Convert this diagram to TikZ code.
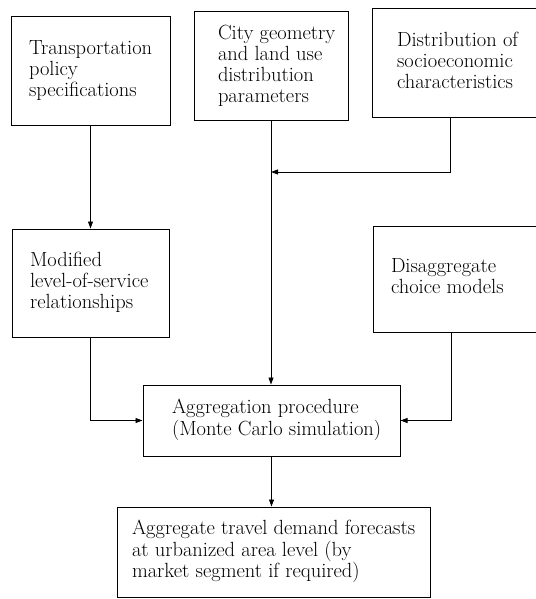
\documentclass[tikz,border=0pt]{standalone}
\usetikzlibrary{arrows.meta}
\newcommand\boxlines[2]{\makebox[#1][l]{\begin{tabular}{@{}l@{}}#2\end{tabular}}}
\tikzset{box/.style={draw,line width=1pt,inner sep=0pt,font=\fontsize{20.5}{21}\selectfont},
  flow/.style={line width=.9pt,-{Triangle[length=7pt,width=5pt]}}}
\begin{document}
\begin{tikzpicture}[x=1pt,y=-1pt]
\useasboundingbox(0,0)rectangle(535,599);
\node[box,minimum width=159pt,minimum height=108pt](policy)at(90.5,71){\boxlines{123pt}{Transportation\\policy\\specifications}};
\node[box,minimum width=154pt,minimum height=109pt](city)at(271,66.5){\boxlines{106pt}{City geometry\\and land use\\distribution\\parameters}};
\node[box,minimum width=178pt,minimum height=109pt](socio)at(461,63.5){\boxlines{128pt}{Distribution of\\socioeconomic\\characteristics}};
\node[box,minimum width=157pt,minimum height=108pt](los)at(90.5,283){\boxlines{121pt}{Modified\\level-of-service\\relationships}};
\node[box,minimum width=177pt,minimum height=106pt](choice)at(461.5,279){\boxlines{141pt}{Disaggregate\\choice models}};
\node[box,minimum width=257pt,minimum height=71pt](aggr)at(271.5,420.5){\boxlines{199pt}{Aggregation procedure\\(Monte Carlo simulation)}};
\node[box,minimum width=313pt,minimum height=90pt](fcst)at(273.5,552){\boxlines{283pt}{Aggregate travel demand forecasts\\at urbanized area level (by\\market segment if required)}};
\coordinate(join)at(city.south|-0,172);
\draw[flow](policy)--(los);
\draw[flow](city)--(city.south|-aggr.north);
\draw[flow]([xshift=-11pt]socio.south)|-(join);
\draw[flow](los.south)|-(aggr.west);
\draw[flow]([xshift=-10pt]choice.south)|-(aggr.east);
\draw[flow](aggr.south)--(aggr.south|-fcst.north);
\end{tikzpicture}
\end{document}
